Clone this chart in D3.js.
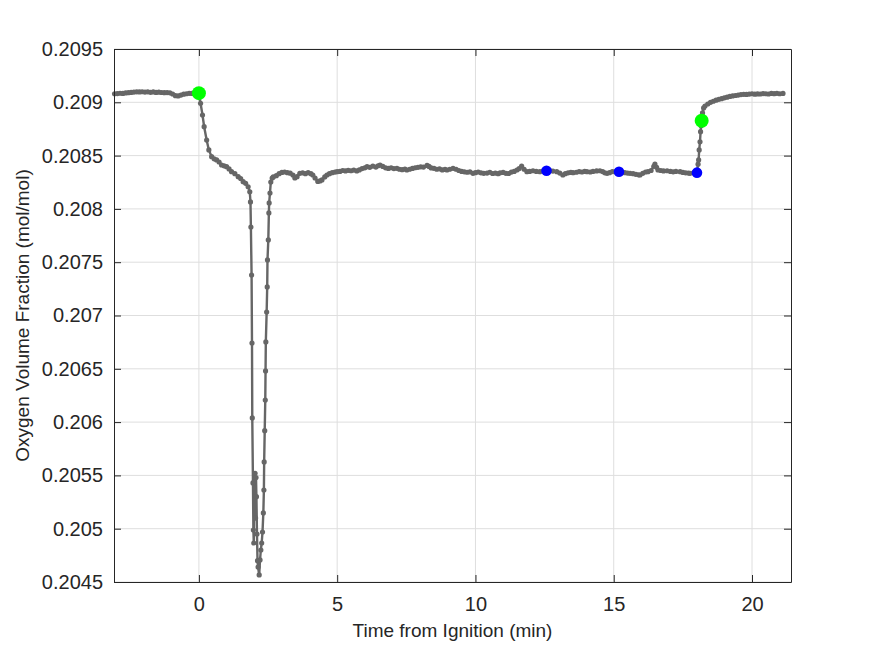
<!DOCTYPE html>
<html>
<head>
<meta charset="utf-8">
<script src="https://cdn.jsdelivr.net/npm/d3@7"></script>
<style>
  body { margin: 0; background: #fff; }
  svg { display: block; font-family: "Liberation Sans", Arial, sans-serif; }
  .tick text { fill: #262626; }
</style>
</head>
<body>
<div id="chart"></div>
<script>
const FRAME_WIDTH = 875;
const FRAME_HEIGHT = 656;
const MARGINS = {left: 114, right: 84, top: 49, bottom: 74};

// time from ignition (min)
const times = [
  -3.05, -2.95, -2.85, -2.75, -2.65, -2.55, -2.45, -2.35, -2.25, -2.15,
  -2.05, -1.95, -1.85, -1.75, -1.65, -1.55, -1.45, -1.35, -1.25, -1.15,
  -1.05, -0.95, -0.85, -0.75, -0.65, -0.55, -0.45, -0.35, -0.25, -0.12,
  0.00, 0.06, 0.13, 0.19, 0.28, 0.36, 0.46, 0.55, 0.64, 0.73,
  0.82, 0.91, 1.00, 1.09, 1.18, 1.30, 1.42, 1.51, 1.60, 1.69,
  1.78, 1.84, 1.865, 1.88, 1.905, 1.92, 1.93, 1.955, 1.97, 1.985,
  2.00, 2.03, 2.05, 2.065, 2.08, 2.10, 2.12, 2.14, 2.18, 2.21,
  2.24, 2.27, 2.30, 2.33, 2.35, 2.36, 2.38, 2.40, 2.41, 2.42,
  2.45, 2.47, 2.48, 2.51, 2.53, 2.54, 2.57, 2.60, 2.65, 2.69,
  2.80, 2.90, 3.00, 3.10, 3.20, 3.30, 3.40, 3.47, 3.55, 3.65,
  3.75, 3.85, 3.95, 4.05, 4.12, 4.20, 4.30, 4.38, 4.45, 4.55,
  4.63, 4.72, 4.82, 4.92, 5.00, 5.10, 5.20, 5.30, 5.40, 5.50,
  5.60, 5.71, 5.80, 5.90, 6.00, 6.08, 6.18, 6.29, 6.40, 6.48,
  6.55, 6.65, 6.75, 6.85, 6.95, 7.05, 7.16, 7.25, 7.35, 7.45,
  7.52, 7.62, 7.72, 7.82, 7.92, 8.02, 8.12, 8.25, 8.32, 8.40,
  8.50, 8.60, 8.70, 8.80, 8.90, 8.97, 9.07, 9.19, 9.30, 9.40,
  9.50, 9.60, 9.70, 9.80, 9.91, 10.00, 10.10, 10.20, 10.30, 10.42,
  10.52, 10.62, 10.72, 10.82, 10.89, 11.00, 11.10, 11.20, 11.30, 11.40,
  11.50, 11.58, 11.67, 11.76, 11.86, 11.96, 12.08, 12.20, 12.33, 12.45,
  12.57, 12.68, 12.80, 12.94, 13.05, 13.16, 13.25, 13.35, 13.45, 13.53,
  13.65, 13.75, 13.85, 13.95, 14.03, 14.15, 14.25, 14.38, 14.50, 14.60,
  14.68, 14.76, 14.85, 14.95, 15.05, 15.19, 15.30, 15.40, 15.50, 15.59,
  15.70, 15.80, 15.90, 15.95, 16.05, 16.15, 16.24, 16.35, 16.45, 16.49,
  16.55, 16.60, 16.70, 16.80, 16.93, 17.05, 17.15, 17.25, 17.40, 17.50,
  17.60, 17.70, 17.76, 17.88, 18.01, 18.05, 18.07, 18.09, 18.12, 18.14,
  18.16, 18.18, 18.21, 18.25, 18.30, 18.40, 18.50, 18.60, 18.70, 18.80,
  18.90, 19.00, 19.10, 19.20, 19.30, 19.40, 19.50, 19.60, 19.70, 19.80,
  19.90, 20.00, 20.10, 20.20, 20.30, 20.40, 20.50, 20.60, 20.70, 20.80,
  20.90, 21.00, 21.12
];

// oxygen volume fraction (mol/mol)
const oxygen = [
  0.209080, 0.209082, 0.209085, 0.209083, 0.209088, 0.209090, 0.209093, 0.209096, 0.209098, 0.209097,
  0.209099, 0.209096, 0.209098, 0.209094, 0.209097, 0.209093, 0.209095, 0.209092, 0.209090, 0.209091,
  0.209089, 0.209078, 0.209062, 0.209060, 0.209068, 0.209076, 0.209080, 0.209084, 0.209083, 0.209086,
  0.209086, 0.208991, 0.208881, 0.208771, 0.208646, 0.208553, 0.208490, 0.208470, 0.208459, 0.208440,
  0.208412, 0.208404, 0.208396, 0.208375, 0.208349, 0.208330, 0.208302, 0.208285, 0.208255, 0.208240,
  0.208208, 0.208161, 0.208065, 0.207830, 0.207380, 0.206742, 0.206039, 0.205429, 0.204988, 0.204866,
  0.205440, 0.205520, 0.205100, 0.205480, 0.205300, 0.204950, 0.204700, 0.204640, 0.204566, 0.204707,
  0.204800, 0.204866, 0.204969, 0.205148, 0.205363, 0.205626, 0.205920, 0.206207, 0.206480, 0.206752,
  0.207033, 0.207268, 0.207521, 0.207709, 0.207962, 0.208056, 0.208149, 0.208252, 0.208290, 0.208300,
  0.208312, 0.208330, 0.208342, 0.208346, 0.208340, 0.208335, 0.208318, 0.208290, 0.208302, 0.208334,
  0.208338, 0.208330, 0.208340, 0.208330, 0.208318, 0.208290, 0.208258, 0.208262, 0.208272, 0.208300,
  0.208318, 0.208330, 0.208340, 0.208345, 0.208349, 0.208352, 0.208360, 0.208356, 0.208362, 0.208358,
  0.208364, 0.208356, 0.208366, 0.208378, 0.208385, 0.208396, 0.208390, 0.208402, 0.208392, 0.208405,
  0.208412, 0.208398, 0.208385, 0.208380, 0.208386, 0.208378, 0.208381, 0.208372, 0.208368, 0.208374,
  0.208365, 0.208372, 0.208380, 0.208386, 0.208390, 0.208395, 0.208392, 0.208408, 0.208398, 0.208384,
  0.208381, 0.208372, 0.208376, 0.208366, 0.208370, 0.208365, 0.208372, 0.208381, 0.208372, 0.208360,
  0.208352, 0.208348, 0.208344, 0.208348, 0.208334, 0.208340, 0.208346, 0.208338, 0.208334, 0.208336,
  0.208344, 0.208332, 0.208336, 0.208330, 0.208338, 0.208342, 0.208334, 0.208332, 0.208345, 0.208352,
  0.208365, 0.208378, 0.208402, 0.208372, 0.208349, 0.208352, 0.208358, 0.208352, 0.208349, 0.208356,
  0.208358, 0.208362, 0.208355, 0.208349, 0.208336, 0.208318, 0.208330, 0.208338, 0.208342, 0.208340,
  0.208344, 0.208350, 0.208346, 0.208352, 0.208349, 0.208346, 0.208352, 0.208356, 0.208358, 0.208350,
  0.208338, 0.208334, 0.208340, 0.208350, 0.208348, 0.208349, 0.208346, 0.208340, 0.208336, 0.208334,
  0.208330, 0.208324, 0.208320, 0.208318, 0.208334, 0.208346, 0.208349, 0.208360, 0.208400, 0.208421,
  0.208390, 0.208365, 0.208360, 0.208356, 0.208358, 0.208352, 0.208348, 0.208352, 0.208349, 0.208342,
  0.208338, 0.208336, 0.208334, 0.208338, 0.208340, 0.208420, 0.208459, 0.208553, 0.208630, 0.208724,
  0.208780, 0.208827, 0.208900, 0.208947, 0.208965, 0.208984, 0.209000, 0.209010, 0.209020, 0.209028,
  0.209034, 0.209042, 0.209048, 0.209055, 0.209060, 0.209064, 0.209068, 0.209072, 0.209075, 0.209074,
  0.209077, 0.209080, 0.209076, 0.209079, 0.209078, 0.209082, 0.209080, 0.209078, 0.209083, 0.209081,
  0.209084, 0.209080, 0.209083
];

// highlighted points
const greenTimes = [0.00, 18.18];
const greenValues = [0.209086, 0.208827];
const blueTimes = [12.57, 15.19, 18.01];
const blueValues = [0.208358, 0.208349, 0.208340];

// axes
const xLimits = [-3.07, 21.41];
const yLimits = [0.2045, 0.2095];
const xTicks = [0, 5, 10, 15, 20];
const yTicks = [0.2045, 0.205, 0.2055, 0.206, 0.2065, 0.207, 0.2075, 0.208, 0.2085, 0.209, 0.2095];
const yTickLabels = ["0.2045", "0.205", "0.2055", "0.206", "0.2065", "0.207", "0.2075", "0.208", "0.2085", "0.209", "0.2095"];

const PLOT_W = FRAME_WIDTH - MARGINS.left - MARGINS.right;
const PLOT_H = FRAME_HEIGHT - MARGINS.top - MARGINS.bottom;
const AXIS_COLOR = "#262626";
const TICK_LEN = 7;

const svg = d3.select("#chart")
  .append("svg")
    .attr("width", FRAME_WIDTH)
    .attr("height", FRAME_HEIGHT);

svg.append("rect")
  .attr("width", FRAME_WIDTH)
  .attr("height", FRAME_HEIGHT)
  .attr("fill", "#fff");

const x = d3.scaleLinear().domain(xLimits).range([MARGINS.left, MARGINS.left + PLOT_W]);
const y = d3.scaleLinear().domain(yLimits).range([MARGINS.top + PLOT_H, MARGINS.top]);

// grid
svg.append("g")
  .selectAll("line")
  .data(xTicks)
  .enter()
  .append("line")
    .attr("x1", d => x(d)).attr("x2", d => x(d))
    .attr("y1", MARGINS.top).attr("y2", MARGINS.top + PLOT_H)
    .attr("stroke", "#dedede").attr("stroke-width", 1);

svg.append("g")
  .selectAll("line")
  .data(yTicks)
  .enter()
  .append("line")
    .attr("x1", MARGINS.left).attr("x2", MARGINS.left + PLOT_W)
    .attr("y1", d => y(d)).attr("y2", d => y(d))
    .attr("stroke", "#dedede").attr("stroke-width", 1);

// data line + dots
const data = times.map((t, i) => ({t: t, v: oxygen[i]}));

svg.append("path")
  .datum(data)
  .attr("fill", "none")
  .attr("stroke", "#666666")
  .attr("stroke-width", 2.4)
  .attr("stroke-linejoin", "round")
  .attr("d", d3.line().x(d => x(d.t)).y(d => y(d.v)));

svg.append("g")
  .selectAll("circle")
  .data(data)
  .enter()
  .append("circle")
    .attr("cx", d => x(d.t))
    .attr("cy", d => y(d.v))
    .attr("r", 2.6)
    .attr("fill", "#666666");

svg.append("g")
  .selectAll("circle")
  .data(blueTimes)
  .enter()
  .append("circle")
    .attr("cx", d => x(d))
    .attr("cy", (d, i) => y(blueValues[i]))
    .attr("r", 5.3)
    .attr("fill", "#0000ff");

svg.append("g")
  .selectAll("circle")
  .data(greenTimes)
  .enter()
  .append("circle")
    .attr("cx", d => x(d))
    .attr("cy", (d, i) => y(greenValues[i]))
    .attr("r", 7)
    .attr("fill", "#00ff00");

// axes (ticks pointing inward, box on)
function styleAxis(g) {
  g.selectAll("path").attr("stroke", AXIS_COLOR);
  g.selectAll("line").attr("stroke", AXIS_COLOR);
  g.selectAll("text").attr("fill", AXIS_COLOR).style("font-size", "20px");
}

svg.append("g")
  .attr("transform", "translate(0," + (MARGINS.top + PLOT_H) + ")")
  .call(d3.axisBottom(x).tickValues(xTicks).tickSizeInner(-TICK_LEN).tickSizeOuter(0).tickPadding(10).tickFormat(d3.format("d")))
  .call(styleAxis)
  .call(g => g.selectAll("text").attr("dy", "0.95em"));

svg.append("g")
  .attr("transform", "translate(0," + MARGINS.top + ")")
  .call(d3.axisTop(x).tickValues(xTicks).tickSizeInner(-TICK_LEN).tickSizeOuter(0).tickFormat(""))
  .call(styleAxis);

svg.append("g")
  .attr("transform", "translate(" + MARGINS.left + ",0)")
  .call(d3.axisLeft(y).tickValues(yTicks).tickSizeInner(-TICK_LEN).tickSizeOuter(0).tickPadding(11)
    .tickFormat((d, i) => yTickLabels[i]))
  .call(styleAxis);

svg.append("g")
  .attr("transform", "translate(" + (MARGINS.left + PLOT_W) + ",0)")
  .call(d3.axisRight(y).tickValues(yTicks).tickSizeInner(-TICK_LEN).tickSizeOuter(0).tickFormat(""))
  .call(styleAxis);

svg.selectAll(".domain").attr("stroke-width", 1);

// axis labels
svg.append("text")
  .attr("x", MARGINS.left + PLOT_W / 2)
  .attr("y", 637)
  .attr("text-anchor", "middle")
  .attr("fill", AXIS_COLOR)
  .style("font-size", "19px")
  .text("Time from Ignition (min)");

svg.append("text")
  .attr("transform", "translate(29," + (MARGINS.top + PLOT_H / 2) + ") rotate(-90)")
  .attr("text-anchor", "middle")
  .attr("fill", AXIS_COLOR)
  .style("font-size", "19px")
  .text("Oxygen Volume Fraction (mol/mol)");
</script>
</body>
</html>
